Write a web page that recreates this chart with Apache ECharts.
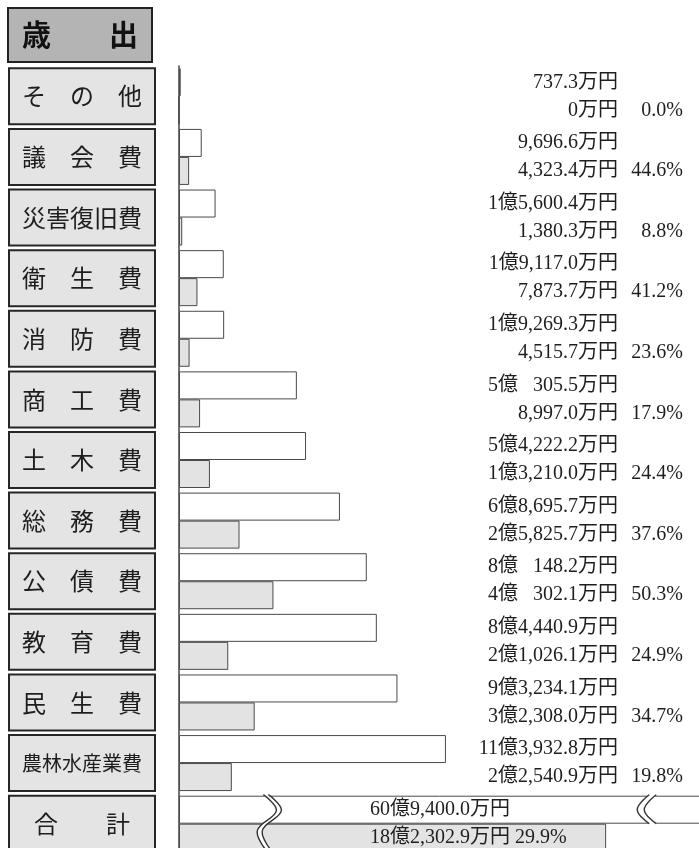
<!DOCTYPE html>
<html>
<head>
<meta charset="utf-8">
<title>歳出</title>
<script src="https://cdn.jsdelivr.net/npm/echarts@6.0.0/dist/echarts.min.js"></script>
<style>
  html, body { margin: 0; padding: 0; background: #fff; }
  #main { width: 699px; height: 848px; }
</style>
</head>
<body>
<div id="main"></div>
<script>
// 歳出 項目別（単位：万円）上段=白い棒、下段=灰色の棒
const categories = ['そ　の　他', '議　会　費', '災害復旧費', '衛　生　費', '消　防　費', '商　工　費',
  '土　木　費', '総　務　費', '公　債　費', '教　育　費', '民　生　費', '農林水産業費', '合　　計'];
const budget = [737.3, 9696.6, 15600.4, 19117.0, 19269.3, 50305.5,
  54222.2, 68695.7, 80148.2, 84440.9, 93234.1, 113932.8, 609400.0];
const spent = [0, 4323.4, 1380.3, 7873.7, 4515.7, 8997.0,
  13210.0, 25825.7, 40302.1, 21026.1, 32308.0, 22540.9, 182302.9];
const rate = [0.0, 44.6, 8.8, 41.2, 23.6, 17.9, 24.4, 37.6, 50.3, 24.9, 34.7, 19.8, 29.9];
// 合計の棒につける省略記号の位置（軸の値）
const breakValues = [36000, 199000];

const last = categories.length - 1;
const numFont = '"Liberation Serif", "Noto Sans CJK JP", serif';
const jpFont = '"Noto Sans CJK JP", sans-serif';

// 万円 → 「1億5,600.4万円」形式
function fmtYen(v) {
  if (v === 0) return '0万円';
  const oku = Math.floor(v / 10000);
  let s = (v - oku * 10000).toFixed(1).replace(/^(\d+)(\d{3})\./, '$1,$2.');
  if (oku > 0) {
    if (s.length < 7) s = '   ' + s; // 千の位が無いときは空ける
    return oku + '億' + s + '万円';
  }
  return s + '万円';
}

const chart = echarts.init(document.getElementById('main'));

const boxStyle = {
  width: 144, height: 54, align: 'center', verticalAlign: 'middle',
  backgroundColor: '#e4e4e4', borderColor: '#262626', borderWidth: 2,
  fontFamily: jpFont, color: '#1e1e1e'
};

const option = {
  animation: false,
  backgroundColor: '#fff',
  title: {
    text: '歳　　出',
    left: 8, top: 8,
    padding: [12, 14],
    backgroundColor: '#b4b4b4',
    borderColor: '#222', borderWidth: 2,
    textStyle: { fontSize: 29, fontWeight: 'bold', fontFamily: jpFont, color: '#111', lineHeight: 30 }
  },
  // 右端は画面の外まで伸ばす（合計の棒が切れて見えるように）
  grid: { left: 179, right: -6, top: 66, height: 788, outerBoundsMode: 'none' },
  xAxis: {
    type: 'value', min: 0, max: 224500, show: false
  },
  yAxis: [
    {
      type: 'category', data: categories, inverse: true,
      axisLine: { show: true, lineStyle: { color: '#444', width: 1.5 } },
      axisTick: { show: false },
      axisLabel: {
        interval: 0, margin: 25,
        formatter: function (name) {
          return (name.length > 5 ? '{s|' : '{b|') + name + '}';
        },
        rich: {
          b: Object.assign({ fontSize: 24 }, boxStyle),
          s: Object.assign({ fontSize: 20 }, boxStyle)
        }
      }
    },
    {
      type: 'category', data: categories, inverse: true, position: 'right',
      axisLine: { show: false }, axisTick: { show: false },
      axisLabel: {
        inside: true, interval: 0, margin: 22,
        formatter: function (val, i) {
          if (i === last) return '';
          return '{v|' + fmtYen(budget[i]) + '}{p| }\n{v|' + fmtYen(spent[i]) + '}{p|' + rate[i].toFixed(1) + '%}';
        },
        rich: {
          v: { width: 150, align: 'right', fontSize: 20, lineHeight: 28, fontFamily: numFont, color: '#1e1e1e' },
          p: { width: 65, align: 'right', fontSize: 20, lineHeight: 28, fontFamily: numFont, color: '#1e1e1e' }
        }
      }
    }
  ],
  series: [
    {
      name: '予算額', type: 'bar', barWidth: 28, barGap: '0%', silent: true,
      itemStyle: { color: '#fff', borderColor: '#4a4a4a', borderWidth: 1 },
      label: {
        show: false, position: [191, '50%'], verticalAlign: 'middle',
        fontSize: 20, fontFamily: numFont, color: '#1e1e1e',
        formatter: function (p) { return fmtYen(p.value); }
      },
      data: budget.map(function (v, i) {
        return i === last ? { value: v, label: { show: true } } : v;
      })
    },
    {
      name: '支出額', type: 'bar', barWidth: 28, silent: true,
      itemStyle: { color: '#e3e3e3', borderColor: '#4a4a4a', borderWidth: 1 },
      label: {
        show: false, position: [191, '50%'], verticalAlign: 'middle',
        fontSize: 20, fontFamily: numFont, color: '#1e1e1e',
        formatter: function (p) { return fmtYen(p.value) + ' ' + rate[p.dataIndex].toFixed(1) + '%'; }
      },
      data: spent.map(function (v, i) {
        return i === last ? { value: v, label: { show: true } } : v;
      })
    }
  ]
};
chart.setOption(option);

// 省略記号（二重の波線）
function curvePair(x, cy, pts, dx) {
  const a = pts.map(function (p) { return [x + p[0], cy + p[1]]; });
  const b = pts.map(function (p) { return [x + p[0] + dx, cy + p[1]]; });
  const line = { stroke: '#333', lineWidth: 1.4, fill: null };
  return [
    { type: 'polygon', z: 10, shape: { points: a.concat(b.slice().reverse()), smooth: 0.4 }, style: { fill: '#fff' } },
    { type: 'polyline', z: 11, shape: { points: a, smooth: 0.4 }, style: line },
    { type: 'polyline', z: 11, shape: { points: b, smooth: 0.4 }, style: line }
  ];
}
const cy = chart.convertToPixel({ yAxisIndex: 0 }, categories[last]);
const bx1 = chart.convertToPixel({ xAxisIndex: 0 }, breakValues[0]);
const bx2 = chart.convertToPixel({ xAxisIndex: 0 }, breakValues[1]);
chart.setOption({
  graphic: curvePair(bx1, cy, [[0, -29], [13, -13], [-6, 7], [4, 28]], 5)
    .concat(curvePair(bx2, cy, [[4, -29], [-8, -14], [4, 0]], 7))
});
</script>
</body>
</html>
